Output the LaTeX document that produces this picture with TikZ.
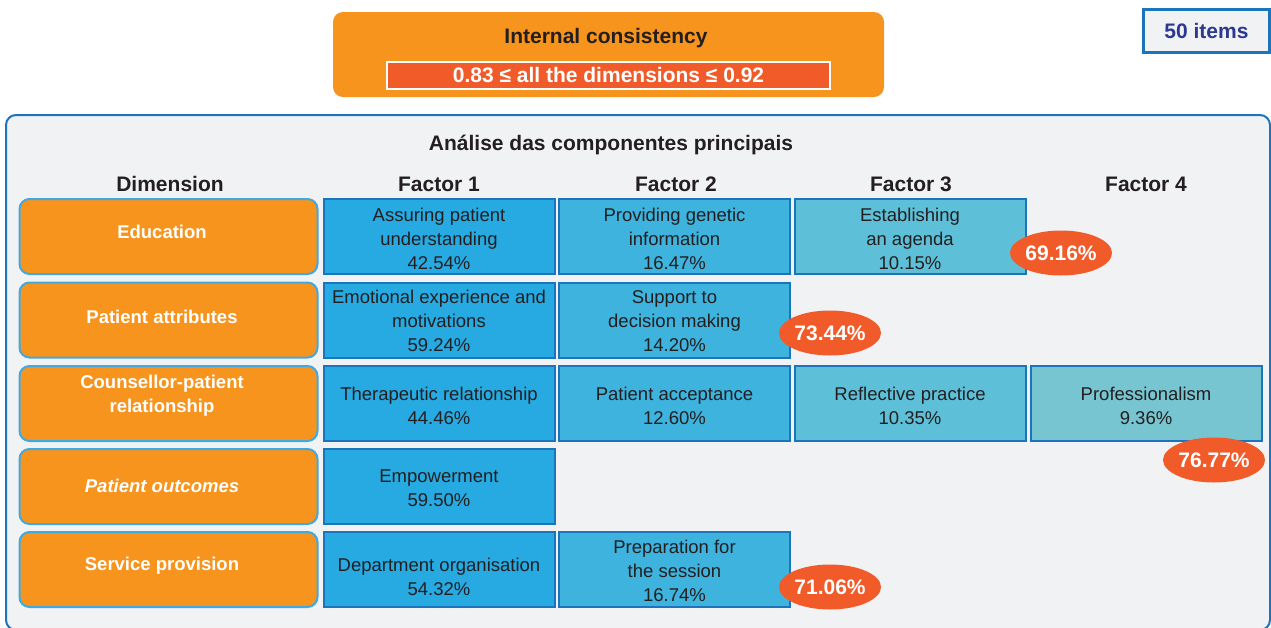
\documentclass[tikz,border=0pt]{standalone}
\usepackage{fontspec}
\setmainfont{Liberation Sans}
\usetikzlibrary{shapes.geometric}
\definecolor{orng}{HTML}{F7941D}
\definecolor{redo}{HTML}{F15A29}
\definecolor{panelbg}{HTML}{F1F2F4}
\definecolor{bordblue}{HTML}{1C75BC}
\definecolor{dimbord}{HTML}{3FA9E0}
\definecolor{cone}{HTML}{27AAE1}
\definecolor{ctwo}{HTML}{3DB3DD}
\definecolor{cthree}{HTML}{5DC0D8}
\definecolor{cfour}{HTML}{77C5D0}
\definecolor{txtdark}{HTML}{231F20}
\definecolor{navy}{HTML}{2B3990}
\begin{document}
\begin{tikzpicture}[x=1pt,y=-1pt,
 big/.style={font=\fontsize{21}{25}\selectfont\bfseries, text=txtdark, inner sep=0pt},
 celltext/.style={align=center, font=\fontsize{18.5}{24}\selectfont, text=txtdark, inner sep=0pt},
 cell/.style={draw=bordblue, line width=2pt, minimum width=231pt, minimum height=75pt, inner sep=0pt},
 dimbox/.style={draw=dimbord, line width=2pt, fill=orng, rounded corners=10pt, minimum width=298pt, minimum height=75pt, inner sep=0pt},
 dimtext/.style={text=white, font=\fontsize{18.5}{24}\selectfont\bfseries, align=center, inner sep=0pt},
 pct/.style={ellipse, fill=redo, minimum width=102pt, minimum height=45pt, inner sep=0pt, text=white, font=\fontsize{21}{25}\selectfont\bfseries}
]
\useasboundingbox (0,0) rectangle (1271,627);
\fill[white] (0,0) rectangle (1271,627);

% top box
\node[fill=orng, rounded corners=10pt, minimum width=551pt, minimum height=85pt, inner sep=0pt] (ic) at (608.5,54.5) {};
\node[big] (ict) at (606,38) {Internal consistency};
\node[fill=redo, draw=white, line width=2pt, minimum width=443pt, minimum height=27pt, inner sep=0pt, text=white, font=\fontsize{21}{25}\selectfont\bfseries] (rng) at (608.5,75.5) {0.83 ≤ all the dimensions ≤ 0.92};

% items box
\node[draw=bordblue, line width=2.5pt, fill=panelbg, minimum width=126pt, minimum height=43pt, inner sep=0pt, text=navy, font=\fontsize{21}{25}\selectfont\bfseries] (items) at (1206.5,31) {50 items};

% panel
\draw[draw=bordblue, line width=2pt, fill=panelbg, rounded corners=10pt] (6,115) rectangle (1270,630);
\node[big] (title) at (611,145) {Análise das componentes principais};

% headers
\node[big] (hd) at (170,184) {Dimension};
\node[big] (h1) at (439,184) {Factor 1};
\node[big] (h2) at (676,184) {Factor 2};
\node[big] (h3) at (911,184) {Factor 3};
\node[big] (h4) at (1146,184) {Factor 4};

% dimension boxes
\node[dimbox] (d1) at (168.5,236.5) {};
\node[dimbox] (d2) at (168.5,320) {};
\node[dimbox] (d3) at (168.5,403.5) {};
\node[dimbox] (d4) at (168.5,486.5) {};
\node[dimbox] (d5) at (168.5,569.5) {};
\node[dimtext] (d1t) at (162,232) {Education};
\node[dimtext] (d2t) at (162,317) {Patient attributes};
\node[dimtext] (d3t) at (162,396) {Counsellor-patient\\relationship};
\node[dimtext] (d4t) at (162,486) {\itshape Patient outcomes};
\node[dimtext] (d5t) at (162,566) {Service provision};

% cells (boxes)
\node[cell, fill=cone] (c11) at (439,236.5) {};
\node[cell, fill=ctwo] (c12) at (674.5,236.5) {};
\node[cell, fill=cthree] (c13) at (910,236.5) {};
\node[cell, fill=cone] (c21) at (439,320) {};
\node[cell, fill=ctwo] (c22) at (674.5,320) {};
\node[cell, fill=cone] (c31) at (439,403.5) {};
\node[cell, fill=ctwo] (c32) at (674.5,403.5) {};
\node[cell, fill=cthree] (c33) at (910,403.5) {};
\node[cell, fill=cfour] (c34) at (1146,403.5) {};
\node[cell, fill=cone] (c41) at (439,486.5) {};
\node[cell, fill=cone] (c51) at (439,569.5) {};
\node[cell, fill=ctwo] (c52) at (674.5,569.5) {};

% cell texts
\node[celltext] (c11t) at ([yshift=-2pt]c11.center) {Assuring patient\\understanding\\42.54\%};
\node[celltext] (c12t) at ([yshift=-2pt]c12.center) {Providing genetic\\information\\16.47\%};
\node[celltext] (c13t) at ([yshift=-2pt]c13.center) {Establishing\\an agenda\\10.15\%};
\node[celltext] (c21t) at ([yshift=-1pt]c21.center) {Emotional experience and\\motivations\\59.24\%};
\node[celltext] (c22t) at ([yshift=-1pt]c22.center) {Support to\\decision making\\14.20\%};
\node[celltext] (c31t) at ([yshift=-2pt]c31.center) {Therapeutic relationship\\44.46\%};
\node[celltext] (c32t) at ([yshift=-2pt]c32.center) {Patient acceptance\\12.60\%};
\node[celltext] (c33t) at ([yshift=-2pt]c33.center) {Reflective practice\\10.35\%};
\node[celltext] (c34t) at ([yshift=-2pt]c34.center) {Professionalism\\9.36\%};
\node[celltext] (c41t) at ([yshift=-2pt]c41.center) {Empowerment\\59.50\%};
\node[celltext] (c51t) at ([yshift=-7pt]c51.center) {Department organisation\\54.32\%};
\node[celltext] (c52t) at ([yshift=-1pt]c52.center) {Preparation for\\the session\\16.74\%};

% percentages
\node[pct] (p1) at (1061,253) {69.16\%};
\node[pct] (p2) at (830,333) {73.44\%};
\node[pct] (p3) at (1214,460) {76.77\%};
\node[pct] (p4) at (830,587) {71.06\%};
\end{tikzpicture}
\end{document}
